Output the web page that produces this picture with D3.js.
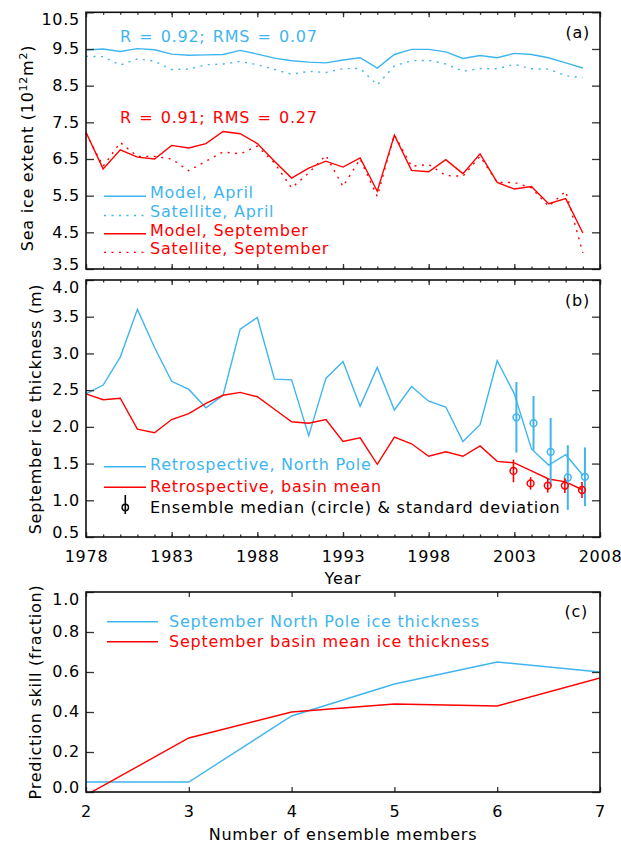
<!DOCTYPE html>
<html>
<head>
<meta charset="utf-8">
<script src="https://cdn.jsdelivr.net/npm/d3@7"></script>
<style>
body { margin: 0; background: #fff; }
text { font-family: "DejaVu Sans", sans-serif; font-size: 16px; letter-spacing: 0.75px; }
</style>
</head>
<body>
<svg id="chart" width="621" height="844"></svg>
<script>
// Years shared by panels (a) and (b)
const years = [1978, 1979, 1980, 1981, 1982, 1983, 1984, 1985, 1986, 1987,
               1988, 1989, 1990, 1991, 1992, 1993, 1994, 1995, 1996, 1997,
               1998, 1999, 2000, 2001, 2002, 2003, 2004, 2005, 2006, 2007];
const yearLabels = [1978, 1983, 1988, 1993, 1998, 2003, 2008];

// Panel (a): sea ice extent (10^12 m^2)
const modelApril = [9.47, 9.50, 9.43, 9.51, 9.48, 9.36, 9.33, 9.34, 9.35, 9.46,
                    9.36, 9.25, 9.18, 9.14, 9.12, 9.20, 9.26, 8.98, 9.35, 9.49,
                    9.49, 9.42, 9.24, 9.32, 9.26, 9.38, 9.35, 9.26, 9.12, 8.98];
const satApril = [9.30, 9.29, 9.06, 9.23, 9.17, 8.94, 8.95, 9.07, 9.09, 9.16,
                  9.07, 8.94, 8.81, 8.89, 8.86, 8.96, 8.97, 8.52, 9.04, 9.18,
                  9.19, 9.09, 8.89, 8.97, 8.96, 9.08, 8.96, 8.95, 8.77, 8.72];
const modelSept = [7.23, 6.23, 6.75, 6.55, 6.50, 6.87, 6.80, 6.92, 7.25, 7.19,
                   6.92, 6.44, 5.98, 6.25, 6.44, 6.28, 6.53, 5.62, 7.15, 6.19,
                   6.15, 6.48, 6.10, 6.64, 5.86, 5.68, 5.75, 5.28, 5.42, 4.48];
const satSept = [7.20, 6.30, 6.95, 6.57, 6.57, 6.50, 6.18, 6.44, 6.69, 6.64,
                 6.85, 6.39, 5.71, 6.12, 6.60, 5.75, 6.50, 5.48, 7.16, 6.30,
                 6.35, 6.05, 6.03, 6.57, 5.86, 5.86, 5.71, 5.21, 5.62, 3.94];
const extentTicks = [3.5, 4.5, 5.5, 6.5, 7.5, 8.5, 9.5, 10.5];

// Panel (b): September ice thickness (m)
const northPole = [2.45, 2.57, 2.95, 3.60, 3.08, 2.62, 2.51, 2.26, 2.43, 3.33,
                   3.49, 2.65, 2.64, 1.88, 2.66, 2.89, 2.28, 2.81, 2.23, 2.55,
                   2.35, 2.27, 1.80, 2.03, 2.90, 2.45, 1.70, 1.48, 1.62, 1.34];
const basinMean = [2.45, 2.37, 2.39, 1.97, 1.92, 2.10, 2.18, 2.32, 2.43, 2.47,
                   2.41, 2.24, 2.07, 2.05, 2.10, 1.80, 1.85, 1.49, 1.86, 1.77,
                   1.60, 1.66, 1.60, 1.74, 1.53, 1.51, 1.40, 1.29, 1.25, 1.14];
const ensYears = [2003, 2004, 2005, 2006, 2007];
const npMedian = [2.13, 2.05, 1.66, 1.31, 1.32];
const npSd = [0.48, 0.37, 0.46, 0.44, 0.40];
const basinMedian = [1.40, 1.23, 1.20, 1.20, 1.14];
const basinSd = [0.155, 0.085, 0.095, 0.10, 0.11];
const thickTicks = [0.5, 1.0, 1.5, 2.0, 2.5, 3.0, 3.5, 4.0];

// Panel (c): prediction skill vs ensemble size
const members = [2, 3, 4, 5, 6, 7];
const skillNorthPole = [0.05, 0.05, 0.38, 0.54, 0.65, 0.60];
const skillBasin = [-0.016, 0.27, 0.40, 0.44, 0.43, 0.57];
const skillTicks = [0.0, 0.2, 0.4, 0.6, 0.8, 1.0];

const blue = "#3fb5f0";
const red = "#ff0000";
const dotted = "2,5.5";

const svg = d3.select("#chart");

const xYear = d3.scaleLinear().domain([1978, 2008]).range([86, 600]);
const yA = d3.scaleLinear().domain([3.5, 10.5]).range([269, 12.3]);
const yB = d3.scaleLinear().domain([0.5, 4.0]).range([537, 280]);
const xC = d3.scaleLinear().domain([2, 7]).range([86, 600]);
const yC = d3.scaleLinear().domain([0, 1]).range([792, 592]);

// draws ticks, tick labels and frame of one panel
function drawAxes(x, y, o) {
    const [x0, x1] = x.range();
    const [yb, yt] = y.range();
    const g = svg.append("g");
    const clean = sel => {
        sel.select(".domain").remove();
        sel.selectAll(".tick line").attr("stroke", "#333").attr("stroke-width", 1.3);
    };

    if (o.xMinor) {
        g.append("g").attr("transform", `translate(0,${yb})`)
            .call(d3.axisBottom(x).tickValues(o.xMinor).tickSize(-2.5).tickFormat(""))
            .call(clean);
        g.append("g").attr("transform", `translate(0,${yt})`)
            .call(d3.axisTop(x).tickValues(o.xMinor).tickSize(-2.5).tickFormat(""))
            .call(clean);
    }
    const bottom = g.append("g").attr("transform", `translate(0,${yb})`)
        .call(d3.axisBottom(x).tickValues(o.xMajor).tickSize(-5).tickPadding(14)
            .tickFormat(o.xLabels ? d3.format("d") : ""))
        .call(clean);
    bottom.selectAll("text").attr("fill", "#000").style("font-size", "16px");
    g.append("g").attr("transform", `translate(0,${yt})`)
        .call(d3.axisTop(x).tickValues(o.xMajor).tickSize(-5).tickFormat(""))
        .call(clean);

    const left = g.append("g").attr("transform", `translate(${x0},0)`)
        .call(d3.axisLeft(y).tickValues(o.yTicks).tickSize(-8).tickPadding(6)
            .tickFormat(d3.format(".1f")))
        .call(clean);
    left.selectAll("text").attr("fill", "#000").style("font-size", "16px")
        .attr("dy", (d, i) => i === 0 ? "0em" : (i === o.yTicks.length - 1 ? "0.78em" : "0.3em"));
    g.append("g").attr("transform", `translate(${x1},0)`)
        .call(d3.axisRight(y).tickValues(o.yTicks).tickSize(-8).tickFormat(""))
        .call(clean);

    g.append("rect")
        .attr("x", x0).attr("y", yt)
        .attr("width", x1 - x0).attr("height", yb - yt)
        .attr("fill", "none").attr("stroke", "#111").attr("stroke-width", 1.6);
}

function drawLine(x, y, xs, vs, color, dash, clip) {
    const line = d3.line().x((d, i) => x(xs[i])).y(d => y(d));
    const p = svg.append("path")
        .datum(vs)
        .attr("d", line)
        .attr("fill", "none")
        .attr("stroke", color)
        .attr("stroke-width", 1.4);
    if (dash) p.attr("stroke-dasharray", dash);
    if (clip) p.attr("clip-path", clip);
}

function legendRow(x, yBase, lineDy, label, color, dash, wide) {
    const l = svg.append("line")
        .attr("x1", x).attr("x2", x + (wide ? 51 : 42))
        .attr("y1", yBase - lineDy).attr("y2", yBase - lineDy)
        .attr("stroke", color).attr("stroke-width", 1.4);
    if (dash) l.attr("stroke-dasharray", dash);
    svg.append("text")
        .attr("x", x + (wide ? 62 : 46)).attr("y", yBase)
        .attr("fill", color).text(label);
}

// ---------- Panel (a) ----------
drawLine(xYear, yA, years, modelApril, blue, null);
drawLine(xYear, yA, years, satApril, blue, dotted);
drawLine(xYear, yA, years, modelSept, red, null);
drawLine(xYear, yA, years, satSept, red, dotted);
drawAxes(xYear, yA, { xMinor: years.concat([2008]), xMajor: yearLabels, xLabels: false, yTicks: extentTicks });

svg.append("text").attr("x", 120).attr("y", 41.7).attr("fill", blue)
    .style("word-spacing", "1.5px").text("R = 0.92; RMS = 0.07");
svg.append("text").attr("x", 120).attr("y", 123).attr("fill", red)
    .style("word-spacing", "1.5px").text("R = 0.91; RMS = 0.27");
svg.append("text").attr("x", 590).attr("y", 38).attr("text-anchor", "end").text("(a)");

legendRow(104, 198.3, 2, "Model, April", blue, null);
legendRow(104, 217, 1.5, "Satellite, April", blue, dotted);
legendRow(104, 235.7, 2, "Model, September", red, null);
legendRow(104, 254.4, 2, "Satellite, September", red, dotted);

const titleA = svg.append("text")
    .attr("transform", "translate(33,148) rotate(-90)")
    .attr("text-anchor", "middle");
titleA.append("tspan").text("Sea ice extent (10");
titleA.append("tspan").attr("dy", -6).style("font-size", "11px").text("12");
titleA.append("tspan").attr("dy", 6).text("m");
titleA.append("tspan").attr("dy", -6).style("font-size", "11px").text("2");
titleA.append("tspan").attr("dy", 6).text(")");

// ---------- Panel (b) ----------
drawLine(xYear, yB, years, northPole, blue, null);
drawLine(xYear, yB, years, basinMean, red, null);

const ensNP = ensYears.map((yr, i) => ({ x: yr + 0.12, m: npMedian[i], s: npSd[i] }));
const ensBasin = ensYears.map((yr, i) => ({ x: yr - 0.05, m: basinMedian[i], s: basinSd[i] }));
[[ensNP, blue, 2], [ensBasin, red, 1.6]].forEach(([data, color, w]) => {
    const g = svg.append("g");
    g.selectAll("line").data(data).enter().append("line")
        .attr("x1", d => xYear(d.x)).attr("x2", d => xYear(d.x))
        .attr("y1", d => yB(d.m - d.s)).attr("y2", d => yB(d.m + d.s))
        .attr("stroke", color).attr("stroke-width", w);
    g.selectAll("circle").data(data).enter().append("circle")
        .attr("cx", d => xYear(d.x)).attr("cy", d => yB(d.m))
        .attr("r", 3.4)
        .attr("fill", "none").attr("stroke", color).attr("stroke-width", 1.5);
});

drawAxes(xYear, yB, { xMinor: years.concat([2008]), xMajor: yearLabels, xLabels: true, yTicks: thickTicks });

svg.append("text").attr("x", 590).attr("y", 306).attr("text-anchor", "end").text("(b)");
legendRow(104, 470, 3.3, "Retrospective, North Pole", blue, null);
legendRow(104, 491.7, 4.4, "Retrospective, basin mean", red, null);
svg.append("line").attr("x1", 125.3).attr("x2", 125.3).attr("y1", 495).attr("y2", 514)
    .attr("stroke", "#000").attr("stroke-width", 1.6);
svg.append("circle").attr("cx", 125.3).attr("cy", 507.5).attr("r", 3.2)
    .attr("fill", "none").attr("stroke", "#000").attr("stroke-width", 1.4);
svg.append("text").attr("x", 150).attr("y", 513).attr("fill", "#000")
    .text("Ensemble median (circle) & standard deviation");

svg.append("text")
    .attr("transform", "translate(41,409) rotate(-90)")
    .attr("text-anchor", "middle").text("September ice thickness (m)");
svg.append("text").attr("x", 343).attr("y", 584).attr("text-anchor", "middle").text("Year");

// ---------- Panel (c) ----------
svg.append("clipPath").attr("id", "clipC").append("rect")
    .attr("x", 86).attr("y", 592).attr("width", 514).attr("height", 200);
drawLine(xC, yC, members, skillNorthPole, blue, null, "url(#clipC)");
drawLine(xC, yC, members, skillBasin, red, null, "url(#clipC)");
drawAxes(xC, yC, { xMinor: null, xMajor: members, xLabels: true, yTicks: skillTicks });

svg.append("text").attr("x", 588).attr("y", 617).attr("text-anchor", "end").text("(c)");
legendRow(107, 626.7, 5, "September North Pole ice thickness", blue, null, true);
legendRow(107, 646.7, 5, "September basin mean ice thickness", red, null, true);

svg.append("text")
    .attr("transform", "translate(41,692) rotate(-90)")
    .attr("text-anchor", "middle").text("Prediction skill (fraction)");
svg.append("text").attr("x", 343).attr("y", 840).attr("text-anchor", "middle")
    .text("Number of ensemble members");
</script>
</body>
</html>
